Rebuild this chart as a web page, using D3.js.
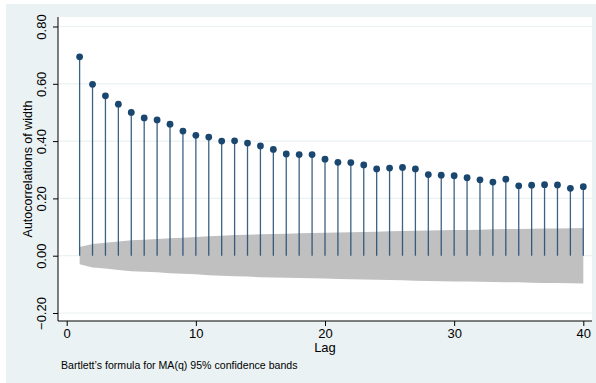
<!DOCTYPE html>
<html>
<head>
<meta charset="utf-8">
<script src="https://cdn.jsdelivr.net/npm/d3@7.9.0/dist/d3.min.js"></script>
<style>
  html, body { margin: 0; padding: 0; background: #fff; }
  svg { display: block; font-family: "Liberation Sans", Arial, sans-serif; }
</style>
</head>
<body>
<div id="chart"></div>
<script>
// ---- data ----
const lags = d3.range(1, 41);
const acf = [
  0.694, 0.598, 0.558, 0.529, 0.500, 0.481, 0.474, 0.459, 0.435, 0.420,
  0.414, 0.400, 0.401, 0.393, 0.383, 0.371, 0.355, 0.353, 0.353, 0.337,
  0.326, 0.325, 0.317, 0.303, 0.306, 0.308, 0.303, 0.283, 0.281, 0.279,
  0.272, 0.265, 0.257, 0.267, 0.244, 0.246, 0.248, 0.247, 0.235, 0.241
];
// half-width of the 95% band at each lag
const band = [
  0.030, 0.041, 0.045, 0.050, 0.054, 0.056, 0.058, 0.061, 0.063, 0.065,
  0.068, 0.070, 0.072, 0.073, 0.075, 0.076, 0.077, 0.078, 0.079, 0.080,
  0.081, 0.082, 0.083, 0.084, 0.085, 0.086, 0.087, 0.088, 0.089, 0.090,
  0.090, 0.091, 0.092, 0.093, 0.093, 0.094, 0.095, 0.095, 0.096, 0.097
];
const yTicks = [-0.2, 0, 0.2, 0.4, 0.6, 0.8];
const xTicks = [0, 10, 20, 30, 40];

const width = 596, height = 383;
const plot = { left: 58, top: 17, right: 592, bottom: 321 };

const svg = d3.select('#chart').append('svg')
  .attr('width', width).attr('height', height);

// graph region + plot region
svg.append('rect').attr('x', 6).attr('y', 4)
  .attr('width', width - 6).attr('height', height - 4)
  .attr('fill', '#eaf2f3');
svg.append('rect').attr('x', plot.left).attr('y', plot.top)
  .attr('width', plot.right - plot.left).attr('height', plot.bottom - plot.top)
  .attr('fill', '#fff');

const x = d3.scaleLinear().domain([0, 40]).range([66.7, 583.3]);
const y = d3.scaleLinear().domain([0, 0.8]).range([255.7, 26.5]);

// gridlines
svg.append('g')
  .selectAll('line').data(yTicks).join('line')
  .attr('x1', plot.left).attr('x2', plot.right)
  .attr('y1', d => y(d)).attr('y2', d => y(d))
  .attr('stroke', '#eaf2f3').attr('stroke-width', 1.2);

// confidence band
const rows = lags.map((l, i) => ({ lag: l, hw: band[i] }));
svg.append('path')
  .datum(rows)
  .attr('d', d3.area().x(d => x(d.lag)).y0(d => y(-d.hw)).y1(d => y(d.hw)))
  .attr('fill', '#c0c0c0');

// stems + dots
const pts = lags.map((l, i) => ({ lag: l, v: acf[i] }));
svg.append('g').selectAll('line').data(pts).join('line')
  .attr('x1', d => x(d.lag)).attr('x2', d => x(d.lag))
  .attr('y1', y(0)).attr('y2', d => y(d.v))
  .attr('stroke', '#1a476f').attr('stroke-width', 1.3).attr('stroke-opacity', 0.85);
svg.append('g').selectAll('circle').data(pts).join('circle')
  .attr('cx', d => x(d.lag)).attr('cy', d => y(d.v))
  .attr('r', 3.4).attr('fill', '#1a476f');

// axes
const yAxis = svg.append('g')
  .attr('transform', `translate(${plot.left},0)`)
  .call(d3.axisLeft(y).tickValues(yTicks).tickSize(5).tickPadding(3)
    .tickFormat(d3.format('.2f')));
yAxis.select('.domain').attr('d', `M0,${plot.top}V${plot.bottom}`).attr('stroke', '#000');
yAxis.selectAll('.tick line').attr('stroke', '#000');
yAxis.selectAll('.tick text')
  .attr('x', null).attr('dy', null)
  .attr('transform', 'translate(-12,0) rotate(-90)')
  .attr('text-anchor', 'middle')
  .attr('font-size', 13).attr('fill', '#000')
  .text(d => d3.format('.2f')(d).replace('-', '\u2212'));

const xAxis = svg.append('g')
  .attr('transform', `translate(0,${plot.bottom})`)
  .call(d3.axisBottom(x).tickValues(xTicks).tickSize(5).tickPadding(3));
xAxis.select('.domain').attr('d', `M${plot.left},0H${plot.right}`).attr('stroke', '#000');
xAxis.selectAll('.tick line').attr('stroke', '#000');
xAxis.selectAll('.tick text')
  .attr('font-size', 13).attr('fill', '#000').attr('dy', '0.72em');

// titles
svg.append('text')
  .attr('transform', `translate(32,${(plot.top + plot.bottom) / 2}) rotate(-90)`)
  .attr('text-anchor', 'middle').attr('font-size', 12.5)
  .text('Autocorrelations of width');
svg.append('text')
  .attr('x', x(20)).attr('y', 352)
  .attr('text-anchor', 'middle').attr('font-size', 13)
  .text('Lag');
svg.append('text')
  .attr('x', 61).attr('y', 369)
  .attr('font-size', 10.6)
  .text('Bartlett\u2019s formula for MA(q) 95% confidence bands');
</script>
</body>
</html>
